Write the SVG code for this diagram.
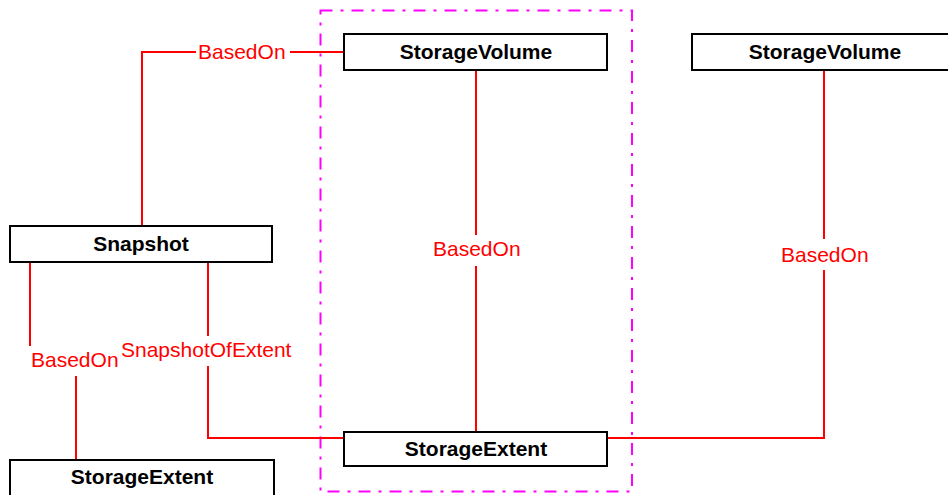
<svg xmlns="http://www.w3.org/2000/svg" width="948" height="495" viewBox="0 0 948 495">
<style>
.node rect{fill:#fff;stroke:#000;stroke-width:2}
.node text{font-family:"Liberation Sans",Arial,sans-serif;font-weight:bold;font-size:21px;text-anchor:middle;fill:#000}
.conn{fill:none;stroke:#ff0000;stroke-width:2}
.lbl{font-family:"Liberation Sans",Arial,sans-serif;font-size:21px;fill:#ff0000}
.grp{fill:none;stroke:#ff00ff;stroke-width:2;stroke-dasharray:12 8 3 8}
</style>
<rect width="948" height="495" fill="#fff"/>
<rect class="grp" x="320.5" y="10.5" width="311.5" height="481"/>
<g id="connectors">
<polyline class="conn" points="142,226 142,52 196,52"/>
<polyline class="conn" points="290,52 344,52"/>
<line class="conn" x1="476" y1="70" x2="476" y2="235"/>
<line class="conn" x1="476" y1="266" x2="476" y2="432"/>
<line class="conn" x1="824" y1="70" x2="824" y2="239"/>
<polyline class="conn" points="824,270 824,438 607,438"/>
<line class="conn" x1="30" y1="262" x2="30" y2="346"/>
<line class="conn" x1="76" y1="376" x2="76" y2="460"/>
<line class="conn" x1="208" y1="262" x2="208" y2="336"/>
<polyline class="conn" points="208,366 208,438 344,438"/>
<text class="lbl" x="198" y="59">BasedOn</text>
<text class="lbl" x="433" y="256">BasedOn</text>
<text class="lbl" x="781" y="262">BasedOn</text>
<text class="lbl" x="31" y="367">BasedOn</text>
<text class="lbl" x="121" y="357">SnapshotOfExtent</text>
</g>
<g id="sv1" class="node"><rect x="344" y="34" width="263" height="36"/><text x="476" y="59">StorageVolume</text></g>
<g id="sv2" class="node"><rect x="692" y="34" width="266" height="36"/><text x="825" y="59">StorageVolume</text></g>
<g id="snap" class="node"><rect x="10" y="226" width="262" height="36"/><text x="141" y="251">Snapshot</text></g>
<g id="se1" class="node"><rect x="344" y="432" width="263" height="34"/><text x="476" y="456">StorageExtent</text></g>
<g id="se2" class="node"><rect x="10" y="460" width="264" height="40"/><text x="142" y="484">StorageExtent</text></g>
</svg>
